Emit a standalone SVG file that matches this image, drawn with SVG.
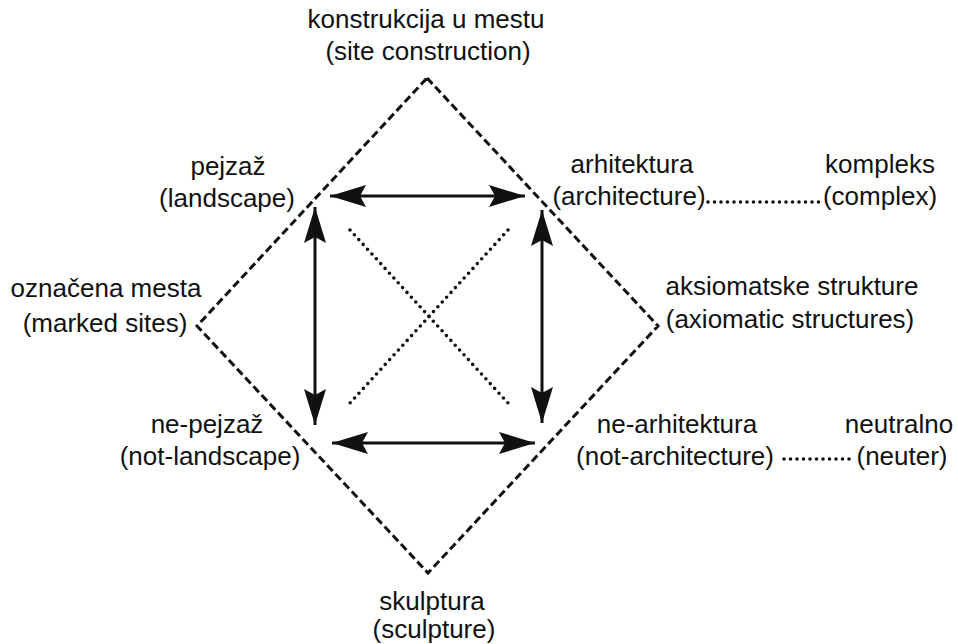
<svg xmlns="http://www.w3.org/2000/svg" width="958" height="644" viewBox="0 0 958 644">
<style>
text{font-family:"Liberation Sans",Arial,sans-serif;font-size:26px;fill:#111;text-anchor:middle}
.dash{fill:none;stroke:#111;stroke-width:3;stroke-dasharray:8 4}
.dot{fill:none;stroke:#111;stroke-width:3.6;stroke-dasharray:0 6.5;stroke-linecap:round}
.arr{fill:none;stroke:#111;stroke-width:3;marker-start:url(#ah);marker-end:url(#ah)}
</style>
<defs>
<marker id="ah" markerUnits="userSpaceOnUse" markerWidth="40" markerHeight="26" viewBox="-38 -13 40 26" refX="0" refY="0" orient="auto-start-reverse">
<path d="M0,0 L-36,-11 L-30,0 L-36,11 Z" fill="#111"/>
</marker>
</defs>
<rect width="958" height="644" fill="#fff"/>
<g id="connectors">
<path class="dash" d="M427,78 L658,326 L428,573 L197,326 Z"/>
<line class="arr" x1="330" y1="196" x2="525" y2="196"/>
<line class="arr" x1="332" y1="443" x2="535" y2="443"/>
<line class="arr" x1="315" y1="207" x2="315" y2="425"/>
<line class="arr" x1="542" y1="210" x2="542" y2="423"/>
<line class="dot" x1="350" y1="230" x2="508" y2="403"/>
<line class="dot" x1="508" y1="230" x2="350" y2="403"/>
<line class="dot" x1="708" y1="202" x2="822" y2="202"/>
<line class="dot" x1="784" y1="459" x2="855" y2="459"/>
</g>
<g id="site"><text x="426" y="28">konstrukcija u mestu</text><text x="428" y="60">(site construction)</text></g>
<g id="landscape"><text x="228" y="175">pejzaž</text><text x="227" y="207">(landscape)</text></g>
<g id="architecture"><text x="632" y="173">arhitektura</text><text x="629" y="205">(architecture)</text></g>
<g id="complex"><text x="880" y="173">kompleks</text><text x="880" y="205">(complex)</text></g>
<g id="marked"><text x="106" y="297">označena mesta</text><text x="105" y="332">(marked sites)</text></g>
<g id="axiomatic"><text x="792" y="295">aksiomatske strukture</text><text x="790" y="328">(axiomatic structures)</text></g>
<g id="notlandscape"><text x="207" y="433">ne-pejzaž</text><text x="210" y="465">(not-landscape)</text></g>
<g id="notarchitecture"><text x="677" y="433">ne-arhitektura</text><text x="675" y="465">(not-architecture)</text></g>
<g id="neuter"><text x="899" y="433">neutralno</text><text x="902" y="465">(neuter)</text></g>
<g id="sculpture"><text x="432" y="610">skulptura</text><text x="434" y="638">(sculpture)</text></g>
</svg>
